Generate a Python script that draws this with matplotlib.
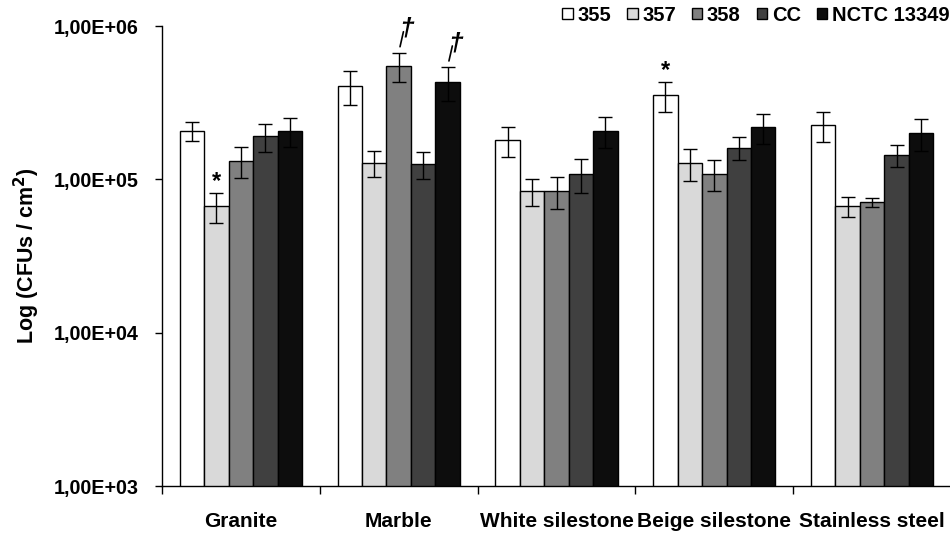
import matplotlib
matplotlib.use("Agg")
import matplotlib.pyplot as plt
import numpy as np
from matplotlib.patches import Patch

plt.rcParams['font.family'] = ['Liberation Sans', 'DejaVu Sans']
plt.rcParams['font.weight'] = 'bold'

categories = ["Granite", "Marble", "White silestone", "Beige silestone", "Stainless steel"]
series = ["355", "357", "358", "CC", "NCTC 13349"]
colors = ["#ffffff", "#d9d9d9", "#808080", "#404040", "#0d0d0d"]

v355 = [2.07e5, 4.06e5, 1.80e5, 3.53e5, 2.25e5]
v357 = [6.7e4, 1.28e5, 8.4e4, 1.28e5, 6.7e4]
v358 = [1.32e5, 5.51e5, 8.4e4, 1.09e5, 7.1e4]
vCC = [1.91e5, 1.25e5, 1.09e5, 1.61e5, 1.44e5]
vNCTC = [2.07e5, 4.32e5, 2.07e5, 2.19e5, 2.01e5]

e355 = [2.8e4, 1.0e5, 4.0e4, 8.0e4, 5.0e4]
e357 = [1.5e4, 2.5e4, 1.7e4, 3.0e4, 1.0e4]
e358 = [3.0e4, 1.2e5, 2.0e4, 2.5e4, 5.0e3]
eCC = [4.0e4, 2.5e4, 2.7e4, 2.8e4, 2.3e4]
eNCTC = [4.5e4, 1.1e5, 4.8e4, 4.8e4, 4.8e4]

values = [v355, v357, v358, vCC, vNCTC]
errors = [e355, e357, e358, eCC, eNCTC]

yticks = [1e3, 1e4, 1e5, 1e6]
ytick_labels = ["1,00E+03", "1,00E+04", "1,00E+05", "1,00E+06"]

fig = plt.figure(figsize=(9.5, 5.33), dpi=100)
ax = fig.add_axes([162/950, (533-486)/533, (951-162)/950, (486-26)/533])

x = np.arange(len(categories))
w = 0.155
for i, (vals, errs) in enumerate(zip(values, errors)):
    pos = x + (i - 2) * w
    ax.bar(pos, vals, width=w, color=colors[i], edgecolor="black", linewidth=1.0, zorder=2)
    ax.errorbar(pos, vals, yerr=errs, fmt="none", ecolor="black", elinewidth=1.0,
                capsize=5.2, capthick=1.0, zorder=3)

ax.set_yscale("log")
ax.set_ylim(1e3, 1e6)
ax.set_xlim(-0.5, 4.5)
ax.set_yticks(yticks)
ax.set_yticklabels(ytick_labels, fontsize=14.2, fontweight="bold")
ax.yaxis.set_minor_locator(matplotlib.ticker.NullLocator())
ax.set_xticks(np.arange(len(categories) + 1) - 0.5)
ax.set_xticklabels([])
ax.set_xticks(x, minor=True)
ax.set_xticklabels(categories, minor=True, fontsize=15, fontweight="bold")
ax.tick_params(axis="x", which="minor", length=0, pad=19)
ax.tick_params(axis="x", which="major", length=6, width=1.0, direction="out")
ax.tick_params(axis="y", which="major", length=5, width=1.0, direction="out", pad=12)
ax.spines["top"].set_visible(False)
ax.spines["right"].set_visible(False)
for s in ["left", "bottom"]:
    ax.spines[s].set_linewidth(1.0)

ax.set_ylabel("Log (CFUs / cm$^\\mathbf{2}$)", fontsize=15.5, fontweight="bold", labelpad=8)

# significance marks
for ci, si in [(0, 1), (3, 0)]:
    xp = ci + (si - 2) * w
    top = values[si][ci] + errors[si][ci]
    ax.annotate("*", xy=(xp, top), xytext=(0, 8), textcoords="offset points",
                ha="center", va="center", fontsize=17, fontweight="bold")
for ci, si in [(1, 2), (1, 4)]:
    xp = ci + (si - 2) * w
    top = values[si][ci] + errors[si][ci]
    ax.annotate("", xy=(xp, top), xytext=(3.4, 15), textcoords="offset points",
                xycoords="data",
                arrowprops=dict(arrowstyle="-", lw=1.2, color="black",
                                shrinkA=0, shrinkB=4.3))
    ax.annotate("\u2020", xy=(xp, top), xytext=(5.5, 17), textcoords="offset points",
                ha="center", va="center", fontsize=19, fontweight="bold",
                style="italic")

handles = [Patch(facecolor=c, edgecolor="black", linewidth=1.0) for c in colors]
fig.legend(handles, series, loc="upper right", bbox_to_anchor=(1.012, 1.012), ncol=5,
           frameon=False, prop={"weight": "bold", "size": 14.5},
           handlelength=0.52, handleheight=0.52, handletextpad=0.22, columnspacing=0.8,
           borderaxespad=0.2)

fig.savefig("out.png", dpi=100)
